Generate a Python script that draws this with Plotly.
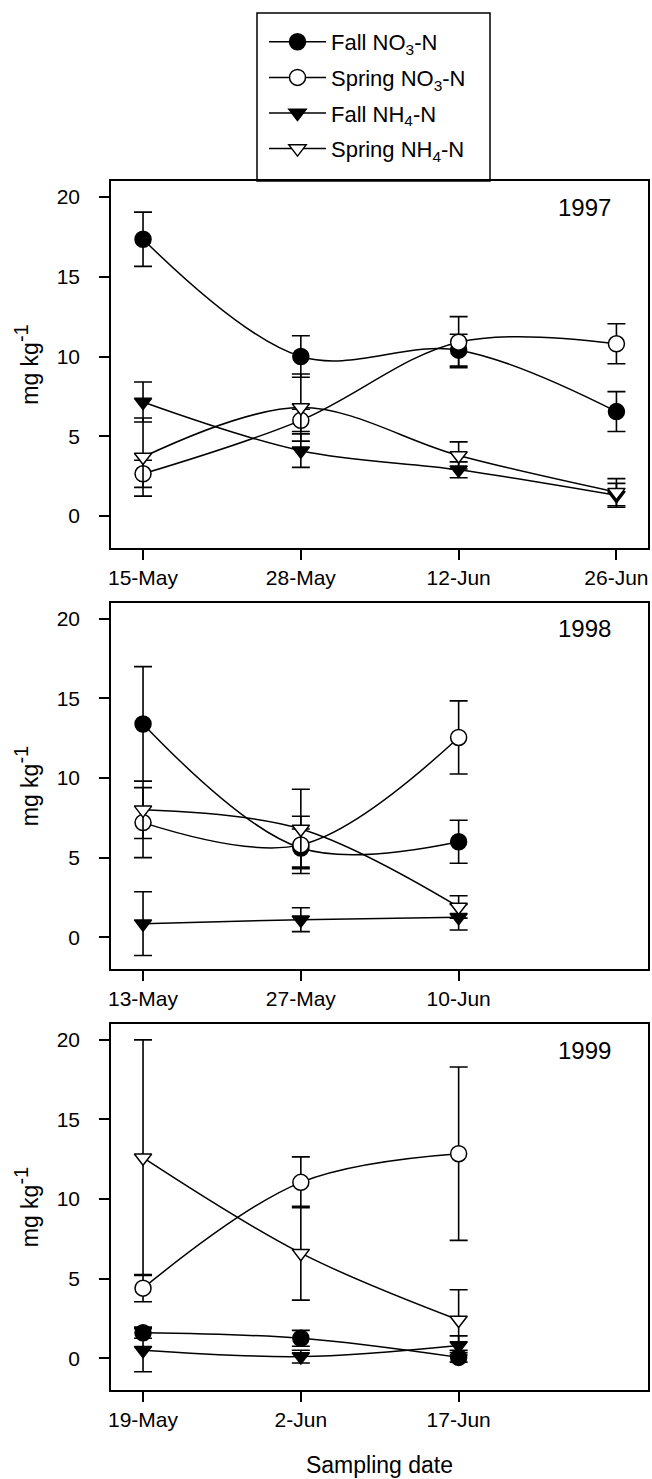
import plotly.graph_objects as go

# ---------------- data ----------------
dates_1997 = ["15-May", "28-May", "12-Jun", "26-Jun"]
fall_no3_1997 = [17.35, 10.0, 10.4, 6.55]
fall_no3_1997_err = [1.7, 1.3, 1.0, 1.25]
spring_no3_1997 = [2.65, 6.0, 10.9, 10.8]
spring_no3_1997_err = [0.85, 0.7, 1.6, 1.25]
fall_nh4_1997 = [7.15, 4.1, 2.9, 1.3]
fall_nh4_1997_err = [1.25, 1.05, 0.5, 0.75]
spring_nh4_1997 = [3.7, 6.8, 3.8, 1.5]
spring_nh4_1997_err = [2.45, 2.1, 0.85, 0.85]

dates_1998 = ["13-May", "27-May", "10-Jun"]
fall_no3_1998 = [13.4, 5.6, 6.0]
fall_no3_1998_err = [3.6, 1.2, 1.35]
spring_no3_1998 = [7.2, 5.8, 12.55]
spring_no3_1998_err = [2.2, 1.8, 2.3]
fall_nh4_1998 = [0.85, 1.1, 1.25]
fall_nh4_1998_err = [2.0, 0.75, 0.8]
spring_nh4_1998 = [8.0, 6.8, 1.9]
spring_nh4_1998_err = [1.8, 2.5, 0.7]

dates_1999 = ["19-May", "2-Jun", "17-Jun"]
fall_no3_1999 = [1.6, 1.25, 0.05]
fall_no3_1999_err = [0.35, 0.5, 0.3]
spring_no3_1999 = [4.4, 11.05, 12.85]
spring_no3_1999_err = [0.85, 1.6, 5.45]
fall_nh4_1999 = [0.5, 0.1, 0.8]
fall_nh4_1999_err = [1.35, 0.4, 0.6]
spring_nh4_1999 = [12.6, 6.6, 2.4]
spring_nh4_1999_err = [7.4, 2.95, 1.9]

years = ["1997", "1998", "1999"]
series_names = ["Fall NO<sub>3</sub>-N", "Spring NO<sub>3</sub>-N",
                "Fall NH<sub>4</sub>-N", "Spring NH<sub>4</sub>-N"]
y_ticks = [0, 5, 10, 15, 20]

panel_data = [
    (dates_1997, [(fall_no3_1997, fall_no3_1997_err), (spring_no3_1997, spring_no3_1997_err),
                  (fall_nh4_1997, fall_nh4_1997_err), (spring_nh4_1997, spring_nh4_1997_err)]),
    (dates_1998, [(fall_no3_1998, fall_no3_1998_err), (spring_no3_1998, spring_no3_1998_err),
                  (fall_nh4_1998, fall_nh4_1998_err), (spring_nh4_1998, spring_nh4_1998_err)]),
    (dates_1999, [(fall_no3_1999, fall_no3_1999_err), (spring_no3_1999, spring_no3_1999_err),
                  (fall_nh4_1999, fall_nh4_1999_err), (spring_nh4_1999, spring_nh4_1999_err)]),
]

# ---------------- styling / layout ----------------
FONT = "Liberation Sans, Arial, Helvetica, sans-serif"
W, H = 652, 1479
PL, PR = 111, 648                       # plot box left/right (px)
panel_px = [(181, 548), (603, 969), (1024, 1390)]  # box top/bottom (px)

styles = [
    dict(symbol="circle", color="black", size=16),
    dict(symbol="circle", color="white", size=16),
    dict(symbol="triangle-down", color="black", size=15),
    dict(symbol="triangle-down", color="white", size=15),
]

fig = go.Figure()

for p, (dates, sers) in enumerate(panel_data):
    xa = "x" if p == 0 else f"x{p+1}"
    ya = "y" if p == 0 else f"y{p+1}"
    for s, (vals, errs) in enumerate(sers):
        st = styles[s]
        fig.add_trace(go.Scatter(
            x=dates, y=vals, xaxis=xa, yaxis=ya,
            mode="lines+markers",
            name=series_names[s],
            legendgroup=f"g{s}",
            showlegend=(p == 0),
            line=dict(color="black", width=1.5, shape="spline", smoothing=1.0),
            marker=dict(symbol=st["symbol"], size=st["size"], color=st["color"],
                        line=dict(color="black", width=1.5)),
            error_y=dict(type="data", array=errs, visible=True,
                         color="black", thickness=1.6, width=9),
        ))

layout = dict(
    width=W, height=H,
    margin=dict(l=PL, r=W - PR, t=0, b=0),
    paper_bgcolor="white", plot_bgcolor="white",
    font=dict(family=FONT, size=22, color="black"),
    showlegend=True,
    legend=dict(
        x=(264 - PL) / (PR - PL), xanchor="left",
        y=1 - 21 / H, yanchor="top",
        bgcolor="rgba(0,0,0,0)", borderwidth=0,
        font=dict(family=FONT, size=22, color="black"),
        itemwidth=57, tracegroupgap=4,
    ),
    shapes=[dict(type="rect", xref="paper", yref="paper",
                 x0=(257 - PL) / (PR - PL), x1=(490 - PL) / (PR - PL),
                 y0=1 - 181 / H, y1=1 - 13 / H,
                 line=dict(color="black", width=1.5), fillcolor="rgba(0,0,0,0)")],
    annotations=[],
)

for p, (dates, _) in enumerate(panel_data):
    top, bot = panel_px[p]
    xk = "xaxis" if p == 0 else f"xaxis{p+1}"
    yk = "yaxis" if p == 0 else f"yaxis{p+1}"
    xa = "x" if p == 0 else f"x{p+1}"
    ya = "y" if p == 0 else f"y{p+1}"
    layout[xk] = dict(
        type="category", categoryorder="array", categoryarray=dates,
        range=[-0.203, 3.2], anchor=ya,
        tickmode="array", tickvals=dates, ticktext=dates,
        ticks="outside", ticklen=10, tickwidth=1.5, tickcolor="black",
        showline=True, linecolor="black", linewidth=1.5, mirror=True,
        showgrid=False, zeroline=False,
        tickfont=dict(family=FONT, size=21, color="black"),
    )
    if p == 2:
        layout[xk]["title"] = dict(text="Sampling date", standoff=27,
                                   font=dict(family=FONT, size=23, color="black"))
    layout[yk] = dict(
        domain=[1 - bot / H, 1 - top / H], anchor=xa,
        range=[-2, 21], tickvals=y_ticks,
        ticks="outside", ticklen=10, tickwidth=1.5, tickcolor="black",
        ticklabelstandoff=15,
        showline=True, linecolor="black", linewidth=1.5, mirror=True,
        showgrid=False, zeroline=False,
        tickfont=dict(family=FONT, size=21, color="black"),
        title=dict(text="mg kg<sup><span style='font-size:20px'>-1</span></sup>",
                   standoff=12,
                   font=dict(family=FONT, size=23, color="black")),
    )
    layout["annotations"].append(dict(
        text=years[p], xref=f"{xa} domain", yref=f"{ya} domain",
        x=(584 - PL) / (PR - PL), y=1 - 26 / (bot - top),
        xanchor="center", yanchor="middle", showarrow=False,
        font=dict(family=FONT, size=24, color="black"),
    ))

fig.update_layout(**layout)
fig.write_html("out.html",
               config={"displayModeBar": False},
               post_script="document.body.style.margin='0px';"
                           "document.body.style.overflow='hidden';")
